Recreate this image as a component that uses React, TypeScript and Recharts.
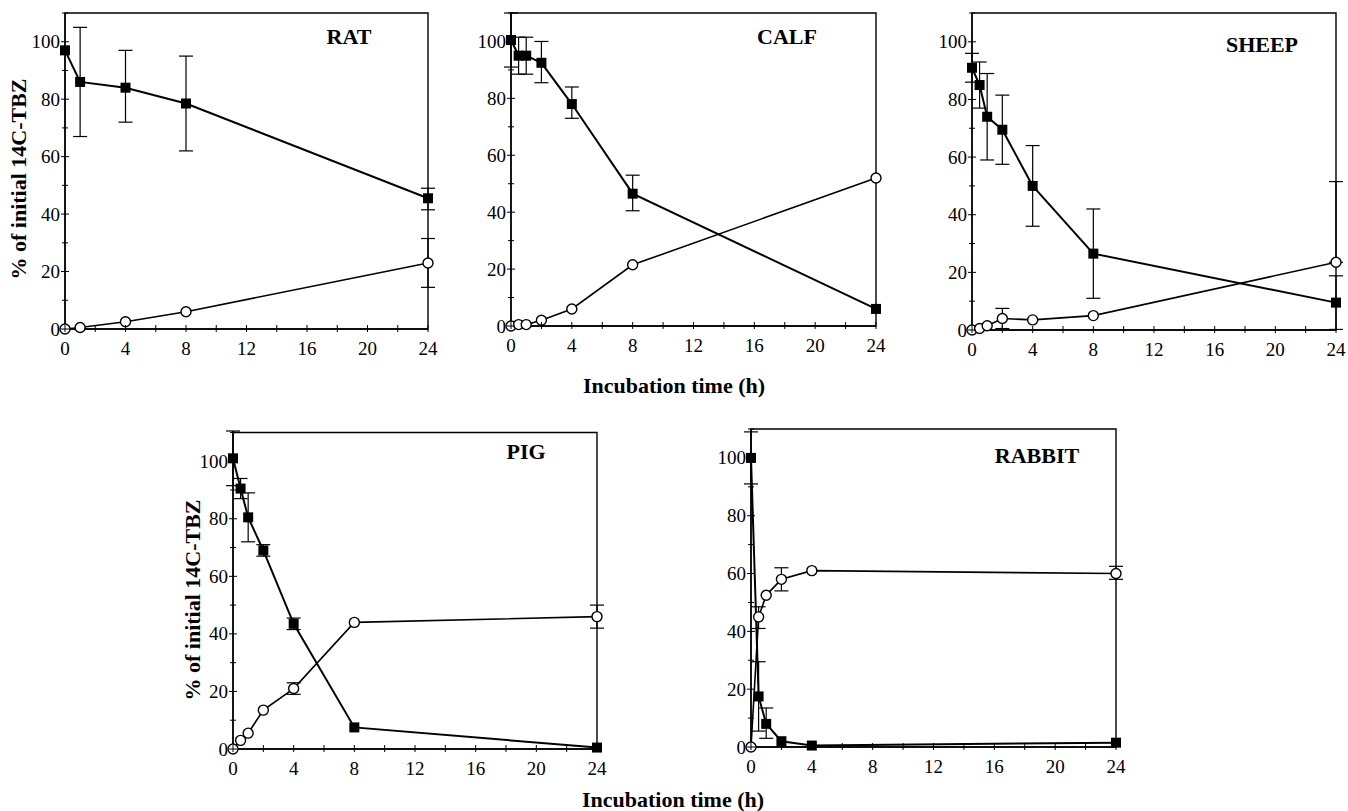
import React from 'react'
import { LineChart, Line, XAxis, YAxis, ErrorBar, ReferenceArea } from 'recharts'

const FONT = '"Liberation Serif", "Times New Roman", serif'

const Y_TICKS = [0, 10, 20, 30, 40, 50, 60, 70, 80, 90, 100, 110]
const X_TICKS = [0, 2, 4, 6, 8, 10, 12, 14, 16, 18, 20, 22, 24]

type Err = number | [number, number] | null

// RAT
const ratTime = [0, 1, 4, 8, 24]
const ratParent = [97, 86, 84, 78.5, 45.5]
const ratParentErr: Err[] = [null, 19, [12, 13], 16.5, [4, 3.5]]
const ratMetab = [0, 0.5, 2.5, 6, 23]
const ratMetabErr: Err[] = [null, null, null, null, 8.5]

// CALF
const calfTime = [0, 0.5, 1, 2, 4, 8, 24]
const calfParent = [100.5, 95, 95, 92.5, 78, 46.5, 6]
const calfParentErr: Err[] = [9.5, 6.5, 6.5, [7, 7.5], [5, 6], [6, 6.5], null]
const calfMetab = [0, 0.5, 0.5, 2, 6, 21.5, 52]
const calfMetabErr: Err[] = [null, null, null, null, null, null, null]

// SHEEP
const sheepTime = [0, 0.5, 1, 2, 4, 8, 24]
const sheepParent = [91, 85, 74, 69.5, 50, 26.5, 9.5]
const sheepParentErr: Err[] = [5, 8, 15, 12, 14, 15.5, 9.3]
const sheepMetab = [0, 0.5, 1.5, 4, 3.5, 5, 23.5]
const sheepMetabErr: Err[] = [null, null, null, 3.5, null, null, [0, 28]]

// PIG
const pigTime = [0, 0.5, 1, 2, 4, 8, 24]
const pigParent = [101, 90.5, 80.5, 69, 43.5, 7.5, 0.5]
const pigParentErr: Err[] = [9.5, 3.5, 8.5, 2, 2, null, null]
const pigMetab = [0, 3, 5.5, 13.5, 21, 44, 46]
const pigMetabErr: Err[] = [null, null, null, null, 2, null, 4]

// RABBIT
const rabbitTime = [0, 0.5, 1, 2, 4, 24]
const rabbitParent = [100, 17.5, 8, 2, 0.5, 1.5]
const rabbitParentErr: Err[] = [9, 12, [5, 5.5], null, null, null]
const rabbitMetab = [0, 45, 52.5, 58, 61, 60]
const rabbitMetabErr: Err[] = [null, [4, 3.5], null, 4, null, [2, 2.5]]

const tickText: React.CSSProperties = { fontFamily: FONT, fontSize: 19 }

function YTick({ x, y, payload }: any) {
  const v = payload.value
  const major = v % 20 === 0 && v <= 100
  const len = major ? 4 : 3
  return (
    <g>
      <line x1={x - len} x2={x + len} y1={y} y2={y} stroke="#000" strokeWidth={1} />
      {major && (
        <text x={x - 5} y={y} textAnchor="end" dominantBaseline="central" style={tickText} fill="#000">
          {v}
        </text>
      )}
    </g>
  )
}

function XTick({ x, y, payload }: any) {
  const v = payload.value
  const major = v % 4 === 0
  return (
    <g>
      <line x1={x} x2={x} y1={y - 4} y2={y + 3} stroke="#000" strokeWidth={1} />
      {major && (
        <text x={x} y={y + 19} textAnchor="middle" dominantBaseline="central" style={tickText} fill="#000">
          {v}
        </text>
      )}
    </g>
  )
}

function SquareDot(props: any) {
  const { cx, cy, index } = props
  if (cx == null || cy == null) return <g key={index} />
  return <rect key={index} x={cx - 5} y={cy - 5} width={10} height={10} fill="#000" />
}

interface PanelProps {
  name: string
  time: number[]
  parent: number[]
  parentErr: Err[]
  metab: number[]
  metabErr: Err[]
  left: number
  top: number
  w: number
  h: number
  titleX: number
  titleY: number
}

const Y_W = 60
const X_H = 40
const M_TOP = 10
const M_RIGHT = 16

function Panel(p: PanelProps) {
  const rows = p.time.map((t, i) => ({
    t,
    parent: p.parent[i],
    parentErr: p.parentErr[i] ?? undefined,
    metab: p.metab[i],
    metabErr: p.metabErr[i] ?? undefined,
  }))
  const axisLine = { stroke: '#000', strokeWidth: 1.4 }
  return (
    <>
      <div style={{ position: 'absolute', left: p.left - Y_W, top: p.top - M_TOP }}>
        <LineChart
          width={p.w + Y_W + M_RIGHT}
          height={p.h + M_TOP + X_H}
          data={rows}
          margin={{ top: M_TOP, right: M_RIGHT, left: 0, bottom: 0 }}
        >
          <XAxis
            dataKey="t"
            type="number"
            domain={[0, 24]}
            ticks={X_TICKS}
            interval={0}
            height={X_H}
            tickSize={0}
            tickMargin={0}
            tickLine={false}
            axisLine={axisLine}
            tick={(t: any) => <XTick {...t} />}
          />
          <YAxis
            type="number"
            domain={[0, 110]}
            ticks={Y_TICKS}
            interval={0}
            width={Y_W}
            tickSize={0}
            tickMargin={0}
            tickLine={false}
            axisLine={axisLine}
            tick={(t: any) => <YTick {...t} />}
          />
          <ReferenceArea x1={0} x2={24} y1={0} y2={110} fill="none" stroke="#000" strokeWidth={1.4} ifOverflow="visible" />
          <Line
            dataKey="metab"
            stroke="#000"
            strokeWidth={1.6}
            isAnimationActive={false}
            dot={{ r: 5, fill: '#fff', stroke: '#000', strokeWidth: 1.4 }}
          >
            <ErrorBar dataKey="metabErr" width={7} stroke="#000" strokeWidth={1.2} direction="y" />
          </Line>
          <Line
            dataKey="parent"
            stroke="#000"
            strokeWidth={2}
            isAnimationActive={false}
            dot={(d: any) => <SquareDot key={d.index} {...d} />}
          >
            <ErrorBar dataKey="parentErr" width={7} stroke="#000" strokeWidth={1.2} direction="y" />
          </Line>
        </LineChart>
      </div>
      <div
        style={{
          position: 'absolute',
          left: p.titleX - 80,
          width: 160,
          top: p.titleY - 13,
          textAlign: 'center',
          fontFamily: FONT,
          fontWeight: 'bold',
          fontSize: 22,
          lineHeight: '26px',
        }}
      >
        {p.name}
      </div>
    </>
  )
}

const labelStyle: React.CSSProperties = {
  position: 'absolute',
  fontFamily: FONT,
  fontWeight: 'bold',
  fontSize: 22,
  lineHeight: '26px',
  whiteSpace: 'nowrap',
  textAlign: 'center',
  width: 300,
}

function YLabel({ x, y }: { x: number; y: number }) {
  return (
    <div style={{ ...labelStyle, left: x - 150, top: y - 13, transform: 'rotate(-90deg)' }}>
      % of initial 14C-TBZ
    </div>
  )
}

function XLabel({ x, y }: { x: number; y: number }) {
  return <div style={{ ...labelStyle, left: x - 150, top: y - 13 }}>Incubation time (h)</div>
}

export default function App() {
  return (
    <div style={{ position: 'absolute', left: 0, top: 0, width: 1348, height: 811, overflow: 'hidden', background: '#fff' }}>
      <Panel name="RAT" time={ratTime} parent={ratParent} parentErr={ratParentErr} metab={ratMetab} metabErr={ratMetabErr}
        left={65} top={13} w={363} h={316} titleX={349} titleY={37} />
      <Panel name="CALF" time={calfTime} parent={calfParent} parentErr={calfParentErr} metab={calfMetab} metabErr={calfMetabErr}
        left={511} top={13} w={365} h={313} titleX={787} titleY={37} />
      <Panel name="SHEEP" time={sheepTime} parent={sheepParent} parentErr={sheepParentErr} metab={sheepMetab} metabErr={sheepMetabErr}
        left={972} top={13} w={364} h={317} titleX={1262} titleY={45} />
      <Panel name="PIG" time={pigTime} parent={pigParent} parentErr={pigParentErr} metab={pigMetab} metabErr={pigMetabErr}
        left={233} top={431} w={364} h={318} titleX={526} titleY={452} />
      <Panel name="RABBIT" time={rabbitTime} parent={rabbitParent} parentErr={rabbitParentErr} metab={rabbitMetab} metabErr={rabbitMetabErr}
        left={751} top={429} w={365} h={318} titleX={1037} titleY={456} />
      <YLabel x={19} y={179} />
      <YLabel x={193} y={600} />
      <XLabel x={674} y={386} />
      <XLabel x={673} y={800} />
    </div>
  )
}
